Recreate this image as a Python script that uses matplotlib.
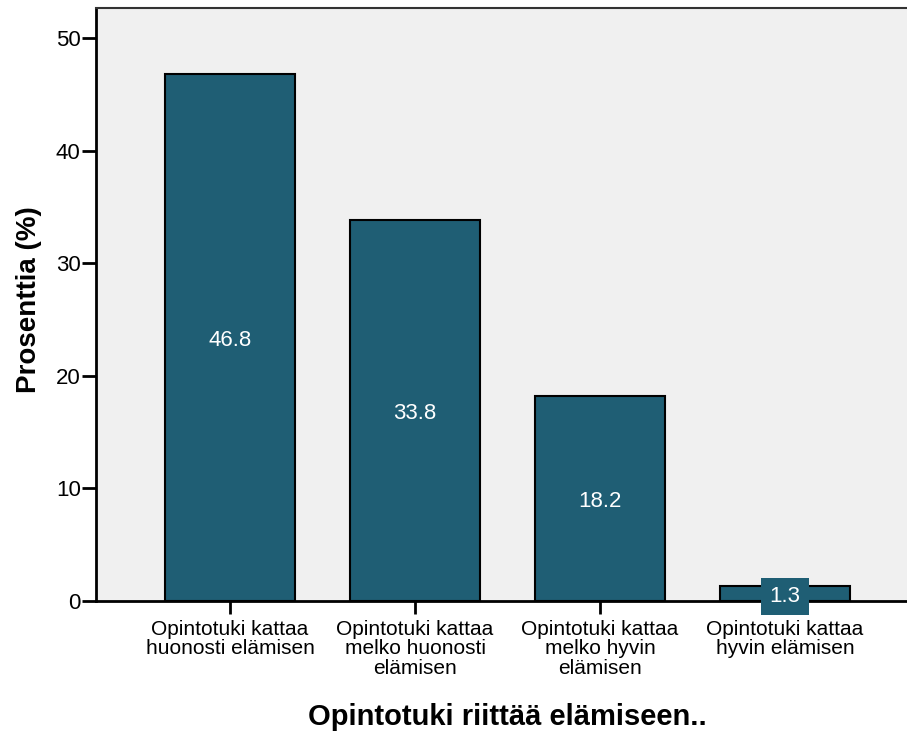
import matplotlib.pyplot as plt

plt.rcParams['font.family'] = ['Liberation Sans', 'DejaVu Sans']

categories = ['Opintotuki kattaa\nhuonosti elämisen',
              'Opintotuki kattaa\nmelko huonosti\nelämisen',
              'Opintotuki kattaa\nmelko hyvin\nelämisen',
              'Opintotuki kattaa\nhyvin elämisen']
percent = [46.8, 33.8, 18.2, 1.3]
yticks = [0, 10, 20, 30, 40, 50]

bar_color = '#1f5e74'

fig = plt.figure(figsize=(9.07, 7.33), dpi=100)
ax = fig.add_axes([96 / 907, 132 / 733, 1 - 96 / 907, 593 / 733])
ax.set_facecolor('#f0f0f0')

x = list(range(len(categories)))
bars = ax.bar(x, percent, width=0.70, color=bar_color, edgecolor='black', linewidth=1.5, zorder=2)

# value labels in the middle of each bar
for xi, v in zip(x, percent):
    ax.annotate(f'{v:.1f}', (xi, v / 2), xytext=(0, -2), textcoords='offset points',
                ha='center', va='center', color='white', fontsize=16, zorder=3,
                bbox=dict(boxstyle='square,pad=0.38', facecolor=bar_color, edgecolor='none'),
                annotation_clip=False)

ax.set_xlim(-0.7243, 3.659)
ax.set_ylim(0, 52.66)
ax.set_yticks(yticks)
ax.set_xticks(x)
ax.set_xticklabels(categories, fontsize=15, linespacing=1.05)
ax.tick_params(axis='y', labelsize=16, length=10, width=2, pad=1, direction='out')
ax.tick_params(axis='x', length=9.5, width=2, pad=4, direction='out')

ax.set_ylabel('Prosenttia (%)', fontsize=20, fontweight='bold')
ax.set_xlabel('Opintotuki riittää elämiseen..', fontsize=21, fontweight='bold')
ax.yaxis.set_label_coords(-0.0666, 0.5076)
ax.xaxis.set_label_coords(0.5068, -0.172)

for side in ['left', 'bottom']:
    ax.spines[side].set_linewidth(2)
    ax.spines[side].set_color('black')
ax.spines['top'].set_color('#333333')
ax.spines['top'].set_linewidth(1.5)
ax.spines['right'].set_visible(False)

fig.savefig('out.png', dpi=100)
